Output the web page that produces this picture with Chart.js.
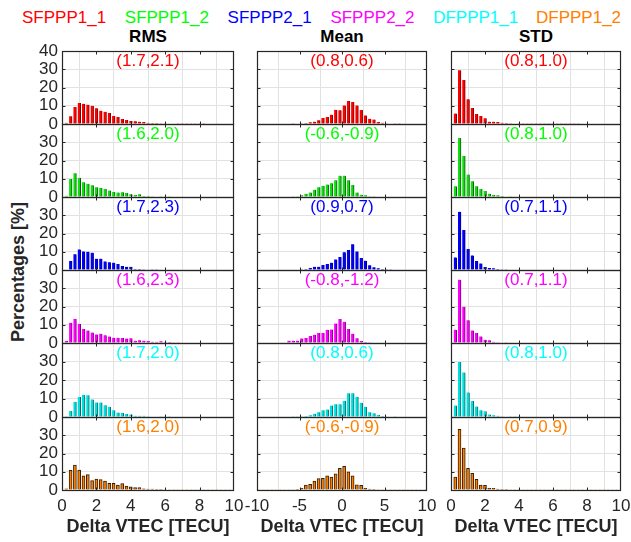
<!DOCTYPE html>
<html><head><meta charset="utf-8">
<script src="https://cdn.jsdelivr.net/npm/chart.js@4.4.1/dist/chart.umd.min.js"></script>
<style>
html,body{margin:0;padding:0;background:#fff;}
#wrap{position:relative;width:631px;height:542px;overflow:hidden;font-family:'Liberation Sans',Arial,sans-serif;}
#wrap canvas{position:absolute;left:0;top:0;}
.lg{position:absolute;top:8px;font-size:17px;line-height:20px;white-space:nowrap;}
.ct{position:absolute;top:27px;font-size:17px;line-height:20px;font-weight:bold;transform:translateX(-50%);white-space:nowrap;color:#000;}
#ylab{position:absolute;left:18px;top:272px;font-size:18px;line-height:20px;font-weight:bold;transform:translate(-50%,-50%) rotate(-90deg);white-space:nowrap;color:#262626;}
</style></head>
<body><div id="wrap"></div>
<script>
// ---------- DATA ----------
const seriesNames = ['SFPPP1_1','SFPPP1_2','SFPPP2_1','SFPPP2_2','DFPPP1_1','DFPPP1_2'];
const seriesTextColors = ['#ff0000','#00ff00','#0000ff','#ff00ff','#00ffff','#ff8000'];
const columnTitles = ['RMS','Mean','STD'];
const xAxisTitle = 'Delta VTEC [TECU]';
const yAxisTitle = 'Percentages [%]';

const rmsBins = [0.25,0.5,0.75,1,1.25,1.5,1.75,2,2.25,2.5,2.75,3,3.25,3.5,3.75,4,4.25,4.5,4.75,5,5.25,5.5,5.75,6,6.25,6.5,6.75,7,7.25,7.5,7.75,8,8.25,8.5,8.75,9,9.25,9.5,9.75,10];
const meanBins = [-9.75,-9.25,-8.75,-8.25,-7.75,-7.25,-6.75,-6.25,-5.75,-5.25,-4.75,-4.25,-3.75,-3.25,-2.75,-2.25,-1.75,-1.25,-0.75,-0.25,0.25,0.75,1.25,1.75,2.25,2.75,3.25,3.75,4.25,4.75,5.25,5.75,6.25,6.75,7.25,7.75,8.25,8.75,9.25,9.75];
const stdBins = [0.25,0.5,0.75,1,1.25,1.5,1.75,2,2.25,2.5,2.75,3,3.25,3.5,3.75,4,4.25,4.5,4.75,5,5.25,5.5,5.75,6,6.25,6.5,6.75,7,7.25,7.5,7.75,8,8.25,8.5,8.75,9,9.25,9.5,9.75,10];

const rmsTicks = [0,2,4,6,8,10];
const meanTicks = [-10,-5,0,5,10];
const stdTicks = [0,2,4,6,8,10];
const yTicks = [0,10,20,30,40];

const rms_SFPPP1_1 = [0.7,4.2,9.3,11.5,11.1,10.6,10.0,8.6,7.3,6.7,6.0,4.4,3.8,2.7,2.2,1.6,1.5,1.3,1.1,0.7,0.5,0.5,0.4,0.4,0.3,0.3,0.2,0.2,0.2,0.2,0.1,0.1,0.1,0,0,0,0,0,0,0];
const rms_SFPPP1_2 = [0.7,9.9,13.0,10.5,8.1,7.3,6.4,5.3,5.0,4.4,3.5,2.8,2.4,2.6,2.2,1.5,1.1,1.5,0.6,0.6,0.4,0.3,0.2,0.2,0.1,0,0,0,0,0,0,0,0,0,0,0,0,0,0,0];
const rms_SFPPP2_1 = [0,4.9,8.6,11.3,10.2,10.0,9.5,6.2,6.2,4.7,4.2,4.0,3.3,2.2,1.8,1.8,0.6,0.5,0.4,0.3,0.2,0.1,0,0,0,0,0,0,0,0,0,0,0,0,0,0,0,0,0,0.6];
const rms_SFPPP2_2 = [1.1,11.1,13.3,10.4,7.7,6.8,5.7,4.7,5.1,4.2,3.5,2.9,2.9,2.7,2.4,2.6,1.3,1.5,1.3,1.1,0.7,0.7,0.9,0.5,0.5,0.4,0.2,0,0,0,0,0,0,0,0,0,0,0,0,0.6];
const rms_DFPPP1_1 = [0.2,3.3,8.2,10.8,12.0,11.7,9.5,7.8,7.8,6.4,5.5,3.6,2.4,2.2,1.6,1.3,0.7,0.7,0.7,0.4,0.3,0.3,0.2,0.2,0.1,0,0,0,0,0,0,0,0,0,0,0,0,0,0,0];
const rms_DFPPP1_2 = [0.7,10.8,13.7,10.9,7.7,8.4,5.1,6.0,5.7,4.9,3.6,3.6,2.7,3.5,2.2,1.8,1.3,1.3,0.7,0.5,0.5,0.4,0.3,0.2,0.2,0.1,0.1,0.1,0.1,0.1,0.1,0.1,0.1,0.1,0.1,0.1,0.1,0.1,0.1,0.1];

const mean_SFPPP1_1 = [0,0,0,0,0,0,0,0.3,0.2,0.3,0.4,0.5,0.9,1.3,2.0,3.3,3.8,5.1,7.8,7.5,10.2,12.6,12.0,10.2,7.7,4.7,2.9,2.4,1.1,0.7,0.4,0.3,0.2,0.2,0,0,0,0,0,0];
const mean_SFPPP1_2 = [0,0,0,0,0,0,0,0,0.4,0.4,0.9,1.8,2.4,4.0,5.3,6.1,6.8,7.5,9.2,11.7,11.7,9.2,6.6,2.4,1.3,0.9,0.4,0.1,0,0,0,0,0,0,0,0,0,0,0,0];
const mean_SFPPP2_1 = [0,0,0,0,0,0,0,0,0,0,0.2,0.5,1.1,1.8,1.8,2.7,3.3,4.0,5.8,7.1,9.7,10.9,14.1,10.2,6.6,5.1,2.6,1.5,0.9,0.5,0.4,0.2,0,0,0,0,0,0,0,0];
const mean_SFPPP2_2 = [0,0,0,0,0,0,0,1.3,1.3,1.3,2.5,2.7,3.9,4.5,5.5,5.5,7.2,7.4,10.7,13.2,11.6,7.7,5.1,2.6,1.1,0.5,0.4,0,0,0,0,0,0,0,0,0,0,0,0,0];
const mean_DFPPP1_1 = [0,0,0,0,0,0,0,0,0.2,0.2,0.4,0.5,0.9,1.8,2.6,3.6,4.0,6.2,6.9,6.9,8.8,12.8,12.8,11.0,7.7,5.5,2.6,2.0,1.1,0.5,0.4,0.3,0.2,0,0,0,0,0,0,0];
const mean_DFPPP1_2 = [0.1,0.1,0.1,0.1,0.1,0.1,0.1,0.2,0.2,0.4,0.9,2.7,3.1,4.9,6.2,6.4,7.7,7.1,8.8,11.9,13.0,10.0,7.8,2.9,2.6,0.9,0.5,0.3,0.1,0.1,0.1,0.1,0.1,0.1,0.1,0.1,0.1,0.1,0.1,0.1];

const std_SFPPP1_1 = [5.7,29.4,24.1,13.5,8.8,5.5,4.4,3.1,1.3,1.3,1.1,0.7,0.5,0.4,0.3,0.2,0.2,0.2,0.1,0.1,0.1,0.1,0.1,0.1,0.1,0.1,0.1,0.1,0.1,0.1,0,0,0,0,0,0,0,0,0,0];
const std_SFPPP1_2 = [5.9,32.3,22.4,12.3,8.6,5.9,4.4,3.3,1.8,1.1,0.9,0.5,0.3,0.2,0,0,0,0,0,0,0,0,0,0,0,0,0,0,0,0,0,0,0,0,0,0,0,0,0,0];
const std_SFPPP2_1 = [6.9,31.9,21.9,11.5,8.0,4.9,3.6,1.6,1.1,0.9,0.5,0.4,0.2,0,0,0,0,0,0,0,0,0,0,0,0,0,0,0,0,0,0,0,0,0,0,0,0,0,0,0];
const std_SFPPP2_2 = [7.3,34.7,19.9,12.4,6.9,5.5,3.6,1.8,1.5,0.7,0.4,0.3,0.2,0,0,0,0,0,0,0,0,0,0,0,0,0,0,0,0,0,0,0,0,0,0,0,0,0,0,0];
const std_DFPPP1_1 = [6.2,29.7,24.1,13.3,8.6,5.7,3.6,3.1,1.3,0.9,0.7,0.4,0.3,0.2,0.1,0.1,0,0,0,0,0,0,0,0,0,0,0,0,0,0,0,0,0,0,0,0,0,0,0,0];
const std_DFPPP1_2 = [7.1,33.2,23.0,11.9,9.1,5.8,2.7,2.6,0.9,0.9,0.5,0.4,0.3,0.2,0.1,0.1,0.1,0.1,0.1,0.1,0.1,0.1,0.1,0.1,0.1,0.1,0.1,0.1,0.1,0.1,0.1,0.1,0.1,0.1,0.1,0.1,0.1,0.1,0.1,0.1];

const rmsLabels  = ['(1.7,2.1)','(1.6,2.0)','(1.7,2.3)','(1.6,2.3)','(1.7,2.0)','(1.6,2.0)'];
const meanLabels = ['(0.8,0.6)','(-0.6,-0.9)','(0.9,0.7)','(-0.8,-1.2)','(0.8,0.6)','(-0.6,-0.9)'];
const stdLabels  = ['(0.8,1.0)','(0.8,1.0)','(0.7,1.1)','(0.7,1.1)','(0.8,1.0)','(0.7,0.9)'];

// ---------- STYLE / LAYOUT ----------
const barFill = ['#ff0000','#10dd10','#0000ff','#ff00ff','#00e0e0','#ff8000'];
const barEdge = ['#7a0000','#0a5a0a','#00007a','#7a007a','#006a6a','#3a1e00'];
const barBorder = [
  {left: 0, right: 1, top: 0, bottom: 0},
  {left: 0, right: 1, top: 0, bottom: 0},
  {left: 0, right: 1, top: 0, bottom: 0},
  {left: 0, right: 1, top: 0, bottom: 0},
  {left: 0, right: 1, top: 0, bottom: 0},
  {left: 1, right: 1, top: 1, bottom: 0}
];
const FONT = "'Liberation Sans', Arial, Helvetica, sans-serif";
const W = 631, H = 542;
const colLeft = [62, 257, 451], colRight = [234, 427, 621];
const rowEdges = [51, 124, 197, 270, 343, 417, 490];
const Y_AXIS_W = 45, X_AXIS_H = 48;

const columns = [
  {bins: rmsBins, ticks: rmsTicks, min: 0, max: 10, labels: rmsLabels,
   series: [rms_SFPPP1_1, rms_SFPPP1_2, rms_SFPPP2_1, rms_SFPPP2_2, rms_DFPPP1_1, rms_DFPPP1_2]},
  {bins: meanBins, ticks: meanTicks, min: -10, max: 10, labels: meanLabels,
   series: [mean_SFPPP1_1, mean_SFPPP1_2, mean_SFPPP2_1, mean_SFPPP2_2, mean_DFPPP1_1, mean_DFPPP1_2]},
  {bins: stdBins, ticks: stdTicks, min: 0, max: 10, labels: stdLabels,
   series: [std_SFPPP1_1, std_SFPPP1_2, std_SFPPP2_1, std_SFPPP2_2, std_DFPPP1_1, std_DFPPP1_2]}
];

const wrap = document.getElementById('wrap');
seriesNames.forEach((n, i) => {
  const s = document.createElement('div');
  s.className = 'lg'; s.textContent = n; s.style.color = seriesTextColors[i];
  s.style.left = (22 + i * 102.8) + 'px';
  wrap.appendChild(s);
});
columnTitles.forEach((t, c) => {
  const d = document.createElement('div');
  d.className = 'ct'; d.textContent = t;
  d.style.left = ((colLeft[c] + colRight[c]) / 2) + 'px';
  wrap.appendChild(d);
});
const yl = document.createElement('div'); yl.id = 'ylab'; yl.textContent = yAxisTitle; wrap.appendChild(yl);

const framePlugin = {
  id: 'frame',
  afterDatasetsDraw(chart, args, opts) {
    const {ctx, chartArea: a} = chart;
    ctx.save();
    ctx.font = '17px ' + FONT;
    ctx.fillStyle = opts.labelColor;
    ctx.textAlign = 'center';
    ctx.textBaseline = 'middle';
    ctx.fillText(opts.label, (a.left + a.right) / 2, a.top + 10);
    ctx.restore();
  },
  afterDraw(chart) {
    const {ctx, chartArea: a, scales} = chart;
    const L = Math.round(a.left) + 0.5, R = Math.round(a.right) - 0.5;
    const T = Math.round(a.top) + 0.5, B = Math.round(a.bottom) + 0.5;
    ctx.save();
    ctx.strokeStyle = '#262626';
    ctx.lineWidth = 1;
    ctx.beginPath();
    scales.x.ticks.forEach(t => {
      const px = Math.round(scales.x.getPixelForValue(t.value)) + 0.5;
      if (px > L + 1 && px < R - 1) {
        ctx.moveTo(px, B); ctx.lineTo(px, B - 3);
        ctx.moveTo(px, T); ctx.lineTo(px, T + 3);
      }
    });
    scales.y.ticks.forEach(t => {
      const py = Math.round(scales.y.getPixelForValue(t.value)) + 0.5;
      if (py > T + 1 && py < B - 1) {
        ctx.moveTo(L, py); ctx.lineTo(L + 3, py);
        ctx.moveTo(R, py); ctx.lineTo(R - 3, py);
      }
    });
    ctx.stroke();
    ctx.lineWidth = 1.2;
    ctx.strokeRect(L, T, R - L, B - T);
    ctx.restore();
  }
};

for (let c = 0; c < 3; c++) {
  for (let r = 0; r < 6; r++) {
    const col = columns[c];
    const isLeft = c === 0, isBottom = r === 5;
    const top = rowEdges[r], bottom = rowEdges[r + 1];
    const cv = document.createElement('canvas');
    cv.width = W; cv.height = H;
    cv.style.width = W + 'px'; cv.style.height = H + 'px';
    wrap.appendChild(cv);
    const vals = col.series[r];
    const tickList = col.ticks;
    new Chart(cv, {
      type: 'bar',
      data: {
        datasets: [{
          data: col.bins.map((b, i) => ({x: b, y: vals[i]})),
          backgroundColor: barFill[r],
          borderColor: barEdge[r],
          borderWidth: barBorder[r],
          borderSkipped: 'start',
          barThickness: 3,
          grouped: false
        }]
      },
      options: {
        responsive: false,
        animation: false,
        devicePixelRatio: 1,
        layout: {padding: {
          left: isLeft ? colLeft[c] - Y_AXIS_W : colLeft[c],
          right: W - colRight[c],
          top: top,
          bottom: isBottom ? H - bottom - X_AXIS_H : H - bottom
        }},
        plugins: {
          legend: {display: false},
          tooltip: {enabled: false},
          frame: {label: col.labels[r], labelColor: seriesTextColors[r]}
        },
        scales: {
          x: {
            type: 'linear', min: col.min, max: col.max, offset: false,
            afterBuildTicks(s) { s.ticks = tickList.map(v => ({value: v})); },
            afterFit(s) { s.height = isBottom ? X_AXIS_H : 0; s.paddingLeft = 0; s.paddingRight = 0; },
            ticks: {display: isBottom, autoSkip: false, maxRotation: 0, padding: 6,
                    color: '#262626', font: {family: FONT, size: 17}},
            grid: {color: '#e2e2e2', drawTicks: false, lineWidth: 1},
            border: {display: false},
            title: {display: isBottom, text: xAxisTitle, color: '#262626', padding: 0,
                    font: {family: FONT, size: 18, weight: 'bold'}}
          },
          y: {
            min: 0, max: 40,
            afterBuildTicks(s) { s.ticks = yTicks.map(v => ({value: v})); },
            afterFit(s) { s.width = isLeft ? Y_AXIS_W : 0; s.paddingTop = 0; s.paddingBottom = 0; },
            ticks: {display: isLeft, autoSkip: false, padding: 4, color: '#262626', font: {family: FONT, size: 17},
                    callback: (v) => (r > 0 && v === 40) ? '' : String(v)},
            grid: {color: '#e2e2e2', drawTicks: false, lineWidth: 1},
            border: {display: false}
          }
        }
      },
      plugins: [framePlugin]
    });
  }
}
</script>
</body></html>
